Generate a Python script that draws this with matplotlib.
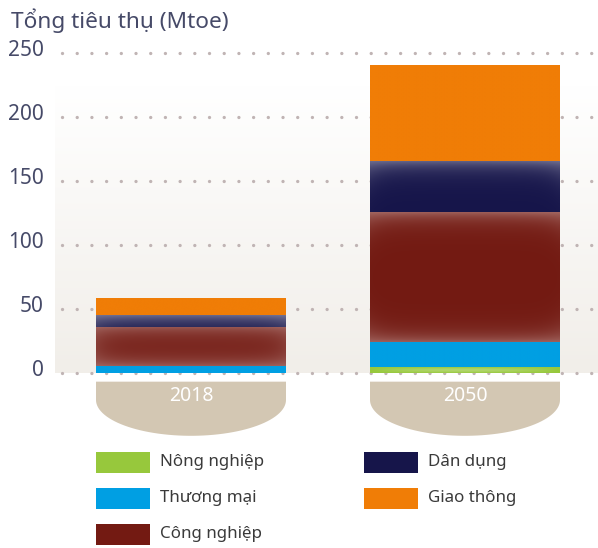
"""Stacked energy consumption by sector, 2018 vs 2050 (Mtoe)."""

import numpy as np
import matplotlib.pyplot as plt
from matplotlib.colors import to_rgb
from matplotlib.patches import Polygon, Rectangle
from matplotlib.transforms import blended_transform_factory

plt.rcParams['font.family'] = ['Noto Sans', 'DejaVu Sans']

years = ['2018', '2050']
sectors = ['Nông nghiệp', 'Thương mại', 'Công nghiệp', 'Dân dụng', 'Giao thông']
nong_nghiep = [0.0, 4.5]
thuong_mai = [5.2, 19.5]
cong_nghiep = [30.5, 101.5]
dan_dung = [9.3, 40.0]
giao_thong = [12.6, 74.5]
yticks = [0, 50, 100, 150, 200, 250]
ylabel = 'Tổng tiêu thụ (Mtoe)'

series = [nong_nghiep, thuong_mai, cong_nghiep, dan_dung, giao_thong]
colors = ['#97c83c', '#009fe3', '#731a12', '#16154a', '#f07d06']
glow_top = [0.0, 0.0, 0.32, 0.40, 0.0]     # soft white sheen on segment edges
glow_bot = [0.0, 0.0, 0.30, 0.0, 0.0]
glow_mid = [0.25, 0.0, 0.0, 0.0, 0.0]

W, H = 598, 548
fig = plt.figure(figsize=(W / 100, H / 100), dpi=100)
ax = fig.add_axes([55 / W, (H - 445) / H, 543 / W, 415 / H])
ax.set_xlim(-136 / 274, 407 / 274)
ax.set_ylim(-(445 - 372.7) / 1.28, (372.7 - 30) / 1.28)
ax.axis('off')

# faint warm background behind the plot
grad = np.linspace(0, 1, 100)[:, None, None]
top_c, bot_c = np.array([1, 1, 1]), np.array(to_rgb('#f1eee9'))
bg = bot_c * (1 - grad) + top_c * grad
ax.imshow(np.repeat(bg, 2, axis=1), extent=(*ax.get_xlim(), 0, 225),
          origin='lower', aspect='auto', interpolation='bilinear', zorder=0)

for t in yticks:
    ax.axhline(t, xmin=0.012, xmax=1, color='#c0b4b4', lw=2.4,
               ls=(0, (0.01, 4.4)), dash_capstyle='round', zorder=1)

ytr = blended_transform_factory(fig.transFigure, ax.transData)
for t in yticks:
    ax.text(44 / W, t + 1.5, str(t), transform=ytr, ha='right', va='center',
            fontsize=15, color='#464a68')
fig.text(11 / W, 1 - 21 / H, ylabel, ha='left', va='center', fontsize=16.3,
         color='#464a68')

x = np.arange(len(years))
width = 190 / 274


def segment(xc, b, h, col, gt, gb, gm):
    ny, nx = 120, 60
    yy = np.linspace(0, h, ny)[:, None]
    xx = np.linspace(-1, 1, nx)[None, :]
    s = 7.0 * (1 + 0.5 * xx ** 8)
    a = gt * np.exp(-(h - yy) / s) + gb * np.exp(-yy / s)
    a = a * (0.9 + 0.1 * xx ** 2)
    a = a + gm * (1 - xx ** 2) * np.sin(np.pi * yy / h)
    a = np.clip(a, 0, 1)[..., None]
    img = np.array(to_rgb(col)) * (1 - a) + a
    ax.imshow(img, extent=(xc - width / 2, xc + width / 2, b, b + h),
              origin='lower', aspect='auto', interpolation='bilinear', zorder=3)


bottom = np.zeros(len(years))
for vals, col, gt, gb, gm in zip(series, colors, glow_top, glow_bot, glow_mid):
    for i, v in enumerate(vals):
        if v > 0:
            segment(x[i], bottom[i], v, col, gt, gb, gm)
    bottom += np.array(vals)

# beige year tabs under each bar
for xi, yr in zip(x, years):
    y0, y1, ry = -7.0, -21.3, 28.0
    th = np.linspace(np.pi, 2 * np.pi, 60)
    arc = np.column_stack([xi + width / 2 * np.cos(th), y1 + ry * np.sin(th)])
    pts = np.vstack([[[xi - width / 2, y0]], arc, [[xi + width / 2, y0]]])
    ax.add_patch(Polygon(pts, closed=True, fc='#d3c7b3', ec='none', zorder=2))
    ax.text(xi, -18, yr, ha='center', va='center', fontsize=14, color='white',
            zorder=4)

# legend (two columns)
leg_pos = [(96, 462), (96, 498), (96, 534), (364, 462), (364, 498)]
for (px, py), name, col in zip(leg_pos, sectors, colors):
    fig.patches.append(Rectangle((px / W, 1 - (py + 10.5) / H), 54 / W, 21 / H,
                                 transform=fig.transFigure, fc=col, ec='none'))
    fig.text((px + 64) / W, 1 - py / H, name, ha='left', va='center',
             fontsize=12.2, color='#3a3a3a')

fig.savefig('out.png', dpi=100)
